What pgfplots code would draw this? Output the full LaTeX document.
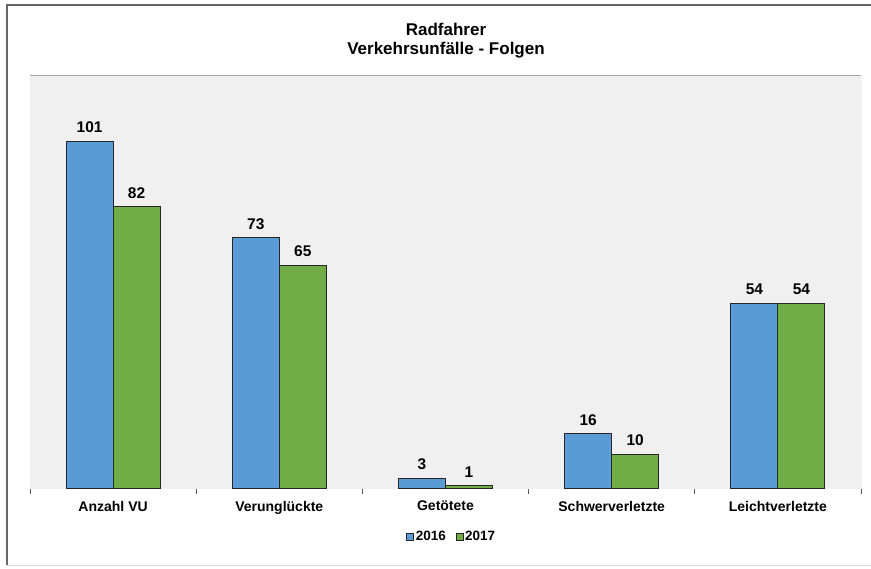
\documentclass[border=0pt]{standalone}
\usepackage{fontspec}
\setmainfont{Liberation Sans}
\usepackage{pgfplots}
\pgfplotsset{compat=1.18}
\definecolor{cblue}{HTML}{5B9BD5}
\definecolor{cgreen}{HTML}{70AD47}
\definecolor{bgc}{HTML}{F0F0F0}
\pgfplotsset{mylegend/.style={legend image code/.code={\draw[##1] (0pt,-3.5pt) rectangle (7pt,3.5pt);}}}
\begin{document}
\begin{tikzpicture}[x=1pt,y=1pt]
\useasboundingbox (0,0) rectangle (871,569);
\fill[white] (0,0) rectangle (871,569);
\draw[gray!80!black, line width=1.2pt] (7,4) -- (7,564) -- (871,564);
\draw[gray!30, line width=0.8pt] (7,4) -- (871,4);
\node[font=\bfseries\fontsize{17}{19}\selectfont, align=center] at (446,528) {Radfahrer\\Verkehrsunfälle - Folgen};
\begin{axis}[
  at={(30pt,80pt)}, anchor=south west,
  scale only axis, width=831pt, height=413pt,
  xmin=-0.5, xmax=4.5, ymin=0, ymax=120,
  ybar=0pt, bar width=47pt,
  axis background/.style={fill=bgc},
  axis line style={draw=none},
  ytick=\empty,
  xtick={0,1,2,3,4},
  xtick pos=lower,
  xticklabels={Anzahl VU, Verunglückte, Getötete, Schwerverletzte, Leichtverletzte},
  major tick length=0pt,
  minor xtick={-0.5,0.5,1.5,2.5,3.5,4.5},
  minor tick length=5pt, tick align=outside,
  minor tick style={gray!70!black, line width=0.8pt},
  xticklabel style={font=\bfseries\fontsize{14}{14}\selectfont, anchor=north, inner sep=0pt, yshift=-12pt},
  /pgf/number format/assume math mode=true,
  nodes near coords,
  every node near coord/.append style={font=\bfseries\fontsize{15.5}{15.5}\selectfont, anchor=south, inner sep=0pt, yshift=8pt, text=black},
  legend style={at={(0.5,-0.116)}, anchor=center, xshift=6pt, draw=none, fill=none, legend columns=2, font=\bfseries\fontsize{13.5}{13.5}\selectfont, /tikz/every even column/.append style={column sep=8pt}, nodes={inner xsep=1.5pt}},
]
\addplot[fill=cblue, draw=black!85, line width=1pt, mylegend] coordinates {(0,101) (1,73) (2,3) (3,16) (4,54)};
\addplot[fill=cgreen, draw=black!85, line width=1pt, mylegend] coordinates {(0,82) (1,65) (2,1) (3,10) (4,54)};
\legend{2016,2017}
\draw[gray!70, line width=1pt] (rel axis cs:0,1) -- (rel axis cs:1,1) -- (rel axis cs:1,0);
\draw[gray!70!black, line width=0.8pt] (rel axis cs:0,0) -- (rel axis cs:1,0);
\end{axis}
\end{tikzpicture}
\end{document}
